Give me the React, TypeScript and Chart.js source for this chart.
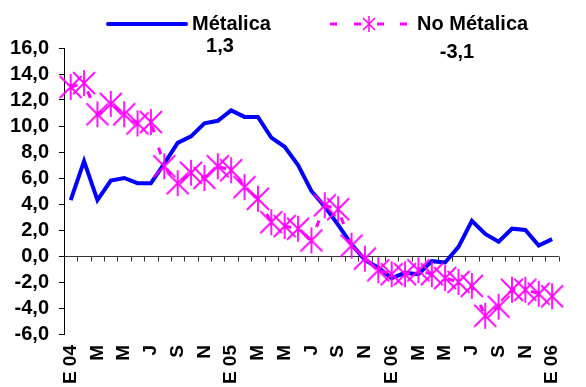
import { useEffect, useRef } from 'react';
import { Chart, registerables } from 'chart.js';

Chart.register(...registerables);

// Monthly categories, Jan 2004 .. Jan of the following period
const months: string[] = [
  'E 04', 'F', 'M', 'A', 'M', 'J', 'J', 'A', 'S', 'O', 'N', 'D',
  'E 05', 'F', 'M', 'A', 'M', 'J', 'J', 'A', 'S', 'O', 'N', 'D',
  'E 06', 'F', 'M', 'A', 'M', 'J', 'J', 'A', 'S', 'O', 'N', 'D',
  'E 06',
];

const metalica: number[] = [
  4.3, 7.3, 4.3, 5.8, 6.0, 5.6, 5.6, 7.1, 8.7, 9.2, 10.2, 10.4,
  11.2, 10.7, 10.7, 9.1, 8.4, 7.0, 5.0, 3.8, 2.4, 0.9, -0.3, -0.9,
  -1.7, -1.3, -1.4, -0.4, -0.5, 0.7, 2.7, 1.7, 1.1, 2.1, 2.0, 0.8,
  1.3,
];

const noMetalica: number[] = [
  13.0, 13.3, 10.9, 11.7, 10.9, 10.2, 10.3, 6.9, 5.6, 6.4, 6.0, 6.9,
  6.6, 5.3, 4.4, 2.6, 2.3, 2.1, 1.2, 3.9, 3.6, 0.8, -0.2, -1.1,
  -1.4, -1.4, -1.1, -1.4, -1.7, -2.0, -2.3, -4.6, -3.9, -2.6, -2.6, -2.9,
  -3.1,
];

const seriesNames: string[] = ['Métalica', 'No Métalica'];

const Y_MIN = -6;
const Y_MAX = 16;
const Y_STEP = 2;

const BLUE = '#0000FF';
const MAGENTA = '#FF00FF';
const FONT = '"Liberation Sans", Arial, Helvetica, sans-serif';

const fmt = (v: number) => v.toFixed(1).replace('.', ',');

// Asterisk-like marker: an X plus a vertical stroke
function makeStar(hx: number, hy: number, vy: number, lw: number): HTMLCanvasElement {
  const w = hx * 2 + 4;
  const h = vy * 2 + 4;
  const c = document.createElement('canvas');
  c.width = w;
  c.height = h;
  const g = c.getContext('2d')!;
  const cx = w / 2;
  const cy = h / 2;
  g.strokeStyle = MAGENTA;
  g.lineWidth = lw;
  g.beginPath();
  g.moveTo(cx - hx, cy - hy);
  g.lineTo(cx + hx, cy + hy);
  g.moveTo(cx - hx, cy + hy);
  g.lineTo(cx + hx, cy - hy);
  g.moveTo(cx, cy - vy);
  g.lineTo(cx, cy + vy);
  g.stroke();
  return c;
}

// Horizontal zero line with a tick at every category boundary
const zeroAxisPlugin = {
  id: 'zeroAxis',
  beforeDatasetsDraw(chart: any) {
    const { ctx, chartArea } = chart;
    const yScale = chart.scales.y;
    const y0 = Math.round(yScale.getPixelForValue(0)) + 0.5;
    const n = chart.data.labels.length;
    const step = (chartArea.right - chartArea.left) / n;
    ctx.save();
    ctx.strokeStyle = '#333333';
    ctx.lineWidth = 1;
    ctx.beginPath();
    ctx.moveTo(chartArea.left, y0);
    ctx.lineTo(chartArea.right, y0);
    for (let k = 1; k <= n; k++) {
      const x = Math.round(chartArea.left + k * step) + 0.5;
      ctx.moveTo(x, y0);
      ctx.lineTo(x, y0 + 5);
    }
    ctx.stroke();
    ctx.restore();
  },
};

// Legend with the latest value of each series underneath
const legendPlugin = {
  id: 'legendWithLast',
  afterDraw(chart: any) {
    const { ctx } = chart;
    ctx.save();
    ctx.font = `bold 20px ${FONT}`;
    ctx.fillStyle = '#000';
    ctx.textBaseline = 'middle';

    // first series
    ctx.strokeStyle = BLUE;
    ctx.lineWidth = 4;
    ctx.lineCap = 'round';
    ctx.beginPath();
    ctx.moveTo(108, 24);
    ctx.lineTo(186, 24);
    ctx.stroke();
    ctx.textAlign = 'left';
    ctx.fillText(seriesNames[0], 192, 24);
    ctx.textAlign = 'center';
    ctx.fillText(fmt(metalica[metalica.length - 1]), 220, 46);

    // second series
    ctx.strokeStyle = MAGENTA;
    ctx.lineWidth = 3;
    ctx.lineCap = 'butt';
    ctx.beginPath();
    for (const [a, b] of [[330, 337], [354, 361], [377, 384], [400, 407]]) {
      ctx.moveTo(a, 24);
      ctx.lineTo(b, 24);
    }
    ctx.stroke();
    ctx.lineWidth = 1.5;
    ctx.beginPath();
    ctx.moveTo(363, 18);
    ctx.lineTo(375, 30);
    ctx.moveTo(363, 30);
    ctx.lineTo(375, 18);
    ctx.moveTo(369, 16);
    ctx.lineTo(369, 32);
    ctx.stroke();
    ctx.textAlign = 'left';
    ctx.fillText(seriesNames[1], 417, 24);
    ctx.textAlign = 'center';
    ctx.fillText(fmt(noMetalica[noMetalica.length - 1]), 457, 52);
    ctx.restore();
  },
};

export default function App() {
  const ref = useRef<HTMLCanvasElement | null>(null);

  useEffect(() => {
    if (!ref.current) return;
    const star = makeStar(11, 11, 13, 1.8);
    const chart = new Chart(ref.current, {
      type: 'line',
      data: {
        labels: months,
        datasets: [
          {
            label: seriesNames[1],
            data: noMetalica,
            borderColor: MAGENTA,
            backgroundColor: MAGENTA,
            borderWidth: 3,
            borderDash: [7, 16],
            tension: 0,
            pointStyle: star as any,
            pointRadius: 4,
            clip: false as any,
            order: 0,
          },
          {
            label: seriesNames[0],
            data: metalica,
            borderColor: BLUE,
            backgroundColor: BLUE,
            borderWidth: 4,
            tension: 0,
            pointRadius: 0,
            order: 1,
          },
        ],
      },
      options: {
        responsive: false,
        animation: false,
        events: [],
        layout: { padding: { top: 48, right: 1, left: 0, bottom: 0 } },
        plugins: {
          legend: { display: false },
          tooltip: { enabled: false },
          title: { display: false },
        },
        scales: {
          x: {
            type: 'category',
            offset: true,
            grid: { display: false, drawTicks: false },
            border: { display: false },
            afterFit: (s: any) => { s.height = 53; },
            ticks: {
              autoSkip: false,
              minRotation: 90,
              maxRotation: 90,
              padding: 11,
              color: '#000',
              font: { family: FONT, size: 19, weight: 'bold' },
              callback: (_v: any, i: number) => (i % 2 === 0 ? months[i] : ''),
            },
          },
          y: {
            min: Y_MIN,
            max: Y_MAX,
            afterFit: (s: any) => { s.width = 64; },
            grid: {
              drawOnChartArea: false,
              drawTicks: true,
              tickLength: 5,
              color: '#000',
            },
            border: { display: true, color: '#000', width: 1 },
            ticks: {
              stepSize: Y_STEP,
              autoSkip: false,
              padding: 10,
              color: '#000',
              font: { family: FONT, size: 20, weight: 'bold' },
              callback: (v: any) => fmt(Number(v)),
            },
          },
        },
      },
      plugins: [zeroAxisPlugin, legendPlugin],
    });
    return () => chart.destroy();
  }, []);

  return (
    <div style={{ position: 'fixed', left: 0, top: 0, width: 586, height: 387, background: '#fff' }}>
      <canvas ref={ref} width={586} height={387} style={{ display: 'block' }} />
    </div>
  );
}
